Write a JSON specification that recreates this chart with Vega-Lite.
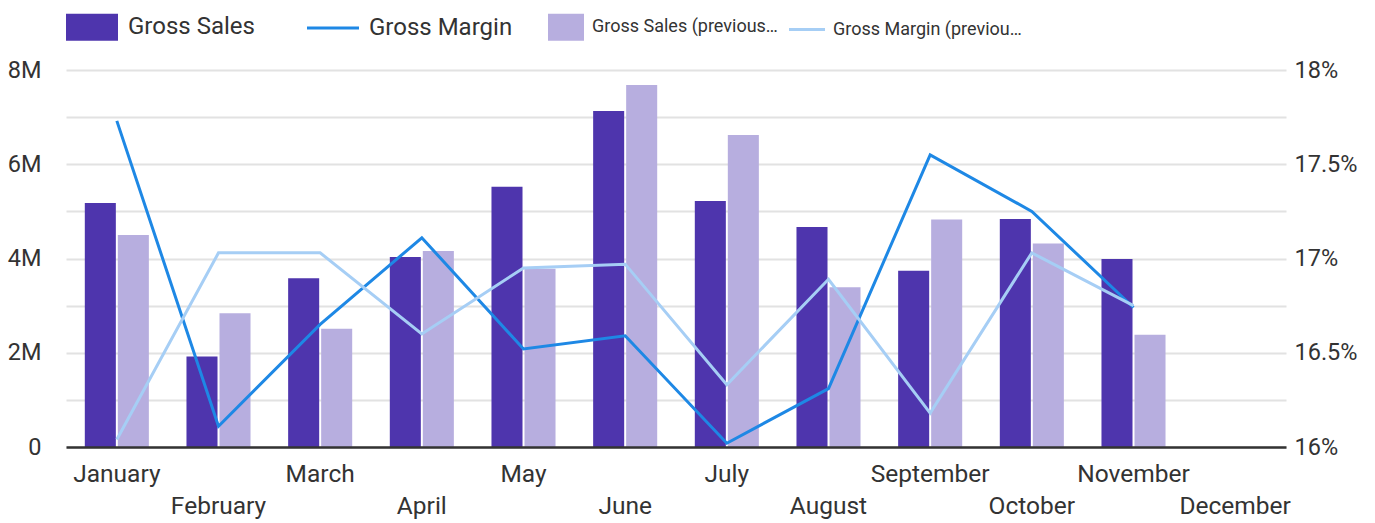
{
  "$schema": "https://vega.github.io/schema/vega-lite/v6.json",
  "width": 1220,
  "height": 377,
  "autosize": {"type": "none"},
  "padding": {"left": 66, "top": 70, "right": 89, "bottom": 76},
  "config": {
    "font": "Roboto",
    "view": {"stroke": null},
    "axis": {"labelFont": "Roboto", "labelFontSize": 23.5, "labelColor": "#333333", "titleFont": "Roboto"},
    "legend": {"labelFont": "Roboto"}
  },
  "data": {
    "values": [
      {"month": "January", "series": "Gross Sales", "value": 5180000},
      {"month": "February", "series": "Gross Sales", "value": 1920000},
      {"month": "March", "series": "Gross Sales", "value": 3580000},
      {"month": "April", "series": "Gross Sales", "value": 4030000},
      {"month": "May", "series": "Gross Sales", "value": 5520000},
      {"month": "June", "series": "Gross Sales", "value": 7130000},
      {"month": "July", "series": "Gross Sales", "value": 5220000},
      {"month": "August", "series": "Gross Sales", "value": 4670000},
      {"month": "September", "series": "Gross Sales", "value": 3740000},
      {"month": "October", "series": "Gross Sales", "value": 4840000},
      {"month": "November", "series": "Gross Sales", "value": 3990000},
      {"month": "January", "series": "Gross Sales (previous year)", "value": 4500000},
      {"month": "February", "series": "Gross Sales (previous year)", "value": 2840000},
      {"month": "March", "series": "Gross Sales (previous year)", "value": 2510000},
      {"month": "April", "series": "Gross Sales (previous year)", "value": 4160000},
      {"month": "May", "series": "Gross Sales (previous year)", "value": 3780000},
      {"month": "June", "series": "Gross Sales (previous year)", "value": 7680000},
      {"month": "July", "series": "Gross Sales (previous year)", "value": 6620000},
      {"month": "August", "series": "Gross Sales (previous year)", "value": 3390000},
      {"month": "September", "series": "Gross Sales (previous year)", "value": 4830000},
      {"month": "October", "series": "Gross Sales (previous year)", "value": 4320000},
      {"month": "November", "series": "Gross Sales (previous year)", "value": 2380000},
      {"month": "January", "series": "Gross Margin", "value": 0.1773},
      {"month": "February", "series": "Gross Margin", "value": 0.1611},
      {"month": "March", "series": "Gross Margin", "value": 0.1665},
      {"month": "April", "series": "Gross Margin", "value": 0.1711},
      {"month": "May", "series": "Gross Margin", "value": 0.1652},
      {"month": "June", "series": "Gross Margin", "value": 0.1659},
      {"month": "July", "series": "Gross Margin", "value": 0.1602},
      {"month": "August", "series": "Gross Margin", "value": 0.1631},
      {"month": "September", "series": "Gross Margin", "value": 0.1755},
      {"month": "October", "series": "Gross Margin", "value": 0.1725},
      {"month": "November", "series": "Gross Margin", "value": 0.1674},
      {"month": "January", "series": "Gross Margin (previous year)", "value": 0.1604},
      {"month": "February", "series": "Gross Margin (previous year)", "value": 0.1703},
      {"month": "March", "series": "Gross Margin (previous year)", "value": 0.1703},
      {"month": "April", "series": "Gross Margin (previous year)", "value": 0.1660},
      {"month": "May", "series": "Gross Margin (previous year)", "value": 0.1695},
      {"month": "June", "series": "Gross Margin (previous year)", "value": 0.1697},
      {"month": "July", "series": "Gross Margin (previous year)", "value": 0.1633},
      {"month": "August", "series": "Gross Margin (previous year)", "value": 0.1689},
      {"month": "September", "series": "Gross Margin (previous year)", "value": 0.1618},
      {"month": "October", "series": "Gross Margin (previous year)", "value": 0.1703},
      {"month": "November", "series": "Gross Margin (previous year)", "value": 0.1675}
    ]
  },
  "encoding": {
    "x": {
      "field": "month",
      "type": "nominal",
      "sort": ["January", "February", "March", "April", "May", "June", "July", "August", "September", "October", "November", "December"],
      "scale": {
        "domain": ["January", "February", "March", "April", "May", "June", "July", "August", "September", "October", "November", "December"],
        "paddingInner": 0.37,
        "paddingOuter": 0.185
      },
      "axis": {
        "title": null,
        "labelAngle": 0,
        "labelFontSize": 24.5,
        "ticks": false,
        "grid": false,
        "domainColor": "#333333",
        "domainWidth": 2.5,
        "labelPadding": 15,
        "labelLineHeight": 32,
        "zindex": 1,
        "labelExpr": "(datum.value == 'February' || datum.value == 'April' || datum.value == 'June' || datum.value == 'August' || datum.value == 'October' || datum.value == 'December') ? ['', datum.label] : datum.label"
      }
    },
    "color": {
      "field": "series",
      "type": "nominal",
      "scale": {
        "domain": ["Gross Sales", "Gross Margin", "Gross Sales (previous year)", "Gross Margin (previous year)"],
        "range": ["#4e35ad", "#1e88e5", "#b7aedf", "#a6cef5"]
      },
      "legend": {
        "title": null,
        "orient": "none",
        "legendX": 14,
        "legendY": -55,
        "direction": "horizontal",
        "columns": 4,
        "gridAlign": "all",
        "columnPadding": 2,
        "symbolType": "square",
        "symbolSize": 2704,
        "labelFontSize": 24,
        "labelColor": "#333333",
        "labelLimit": 400,
        "labelOffset": 11,
        "labelExpr": "datum.value == 'Gross Sales (previous year)' ? 'Gross Sales (previous…' : datum.value == 'Gross Margin (previous year)' ? 'Gross Margin (previou…' : datum.label",
        "encoding": {
          "symbols": {
            "shape": {"value": {"expr": "datum.value == 'Gross Sales' ? 'M-1,-0.52H1V0.52H-1Z' : datum.value == 'Gross Margin' ? 'M-1,0H1' : datum.value == 'Gross Sales (previous year)' ? 'M-1,-0.52H0.385V0.52H-1Z' : 'M-1,0H0.385'"}},
            "fill": {"value": {"expr": "(datum.value == 'Gross Margin' || datum.value == 'Gross Margin (previous year)') ? 'transparent' : scale('color', datum.value)"}},
            "stroke": {"value": {"expr": "scale('color', datum.value)"}},
            "strokeWidth": {"value": {"expr": "(datum.value == 'Gross Margin' || datum.value == 'Gross Margin (previous year)') ? 3 : 0"}},
            "opacity": {"value": 1},
            "fillOpacity": {"value": 1}
          },
          "labels": {
            "dx": {"value": {"expr": "(datum.value == 'Gross Sales (previous year)' || datum.value == 'Gross Margin (previous year)') ? -5 : 13"}},
            "fontSize": {"value": {"expr": "(datum.value == 'Gross Sales (previous year)' || datum.value == 'Gross Margin (previous year)') ? 18 : 24"}}
          }
        }
      }
    }
  },
  "layer": [
    {
      "transform": [{"filter": {"field": "series", "oneOf": ["Gross Sales", "Gross Sales (previous year)"]}}],
      "mark": {"type": "bar", "opacity": 1},
      "encoding": {
        "xOffset": {
          "field": "series",
          "type": "nominal",
          "sort": ["Gross Sales", "Gross Sales (previous year)"],
          "scale": {"paddingInner": 0.06}
        },
        "y": {
          "field": "value",
          "type": "quantitative",
          "scale": {"domain": [0, 8000000], "nice": false},
          "axis": {
            "orient": "left",
            "title": null,
            "values": [0, 1000000, 2000000, 3000000, 4000000, 5000000, 6000000, 7000000, 8000000],
            "labelExpr": "datum.value % 2000000 == 0 ? (datum.value == 0 ? '0' : (datum.value / 1000000) + 'M') : ''",
            "grid": true,
            "gridColor": "#e2e2e2",
            "gridWidth": 2,
            "domain": false,
            "ticks": false,
            "labelPadding": 25
          }
        }
      }
    },
    {
      "transform": [{"filter": {"field": "series", "oneOf": ["Gross Margin", "Gross Margin (previous year)"]}}],
      "mark": {"type": "line", "strokeWidth": 3},
      "encoding": {
        "y": {
          "field": "value",
          "type": "quantitative",
          "scale": {"domain": [0.16, 0.18], "nice": false, "zero": false},
          "axis": {
            "orient": "right",
            "title": null,
            "values": [0.16, 0.165, 0.17, 0.175, 0.18],
            "format": "~%",
            "grid": false,
            "domain": false,
            "ticks": false,
            "labelPadding": 8
          }
        }
      }
    }
  ],
  "resolve": {"scale": {"y": "independent"}}
}
